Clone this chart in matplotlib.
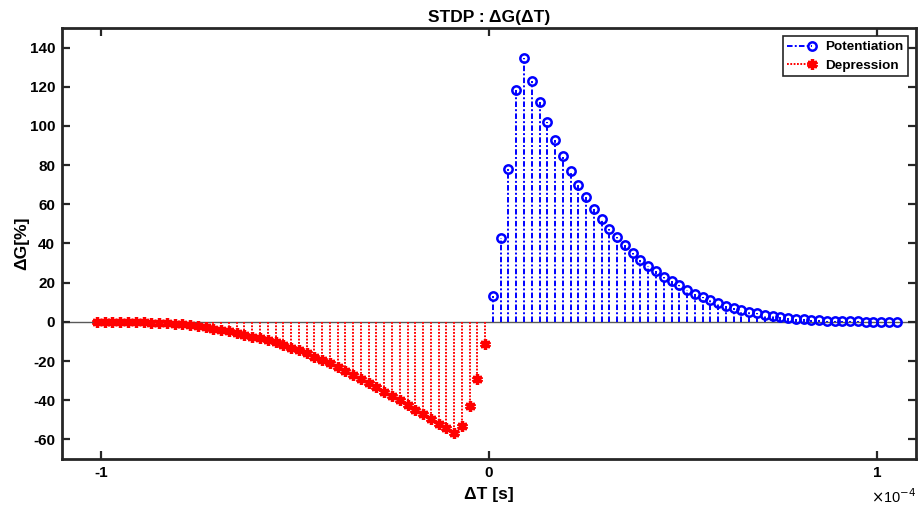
import numpy as np
import matplotlib
matplotlib.use("Agg")
import matplotlib.pyplot as plt
from matplotlib.ticker import FixedLocator, FuncFormatter
from matplotlib.lines import Line2D
from matplotlib.legend_handler import HandlerLine2D

plt.rcParams['font.family'] = ['Liberation Sans', 'DejaVu Sans']
plt.rcParams['axes.unicode_minus'] = False
plt.rcParams['lines.scale_dashes'] = False

# Spike timing difference (microseconds) and conductance change (%)
dt_pot_us = [1, 3, 5, 7, 9, 11, 13, 15, 17, 19, 21, 23, 25, 27, 29, 31, 33, 35, 37, 39,
             41, 43, 45, 47, 49, 51, 53, 55, 57, 59, 61, 63, 65, 67, 69, 71, 73, 75, 77, 79,
             81, 83, 85, 87, 89, 91, 93, 95, 97, 99, 101, 103, 105]
dg_pot = [13.0, 42.6, 78.0, 118.6, 134.9, 122.9, 112.1, 102.2, 93.0, 84.6, 76.8, 69.9,
          63.8, 57.8, 52.3, 47.5, 43.1, 39.0, 35.2, 31.8, 28.4, 25.8, 22.9, 20.9, 18.6,
          16.4, 14.4, 12.7, 11.3, 9.6, 8.2, 7.0, 6.0, 5.0, 4.3, 3.6, 3.0, 2.5, 2.0, 1.6,
          1.3, 1.0, 0.8, 0.6, 0.5, 0.4, 0.3, 0.22, 0.17, 0.13, 0.1, 0.08, 0.06]

dt_dep_us = [-101, -99, -97, -95, -93, -91, -89, -87, -85, -83, -81, -79, -77, -75, -73,
             -71, -69, -67, -65, -63, -61, -59, -57, -55, -53, -51, -49, -47, -45, -43,
             -41, -39, -37, -35, -33, -31, -29, -27, -25, -23, -21, -19, -17, -15, -13,
             -11, -9, -7, -5, -3, -1]
dg_dep = [-0.02, -0.03, -0.05, -0.08, -0.12, -0.18, -0.26, -0.37, -0.52, -0.72, -0.98,
          -1.3, -1.7, -2.2, -2.8, -3.4, -4.1, -4.9, -5.7, -6.6, -7.5, -8.4, -9.4, -10.4,
          -11.6, -13.2, -14.5, -16.1, -17.8, -19.5, -21.2, -23.1, -25.0, -27.2, -29.2,
          -31.3, -33.5, -35.7, -37.9, -40.0, -42.6, -44.8, -47.2, -49.4, -52.0, -54.2,
          -56.6, -53.2, -43.1, -29.2, -11.3]

x_ticks = [-1e-4, 0, 1e-4]
y_ticks = [-60, -40, -20, 0, 20, 40, 60, 80, 100, 120, 140]

x_pot = np.array(dt_pot_us) * 1e-6
x_dep = np.array(dt_dep_us) * 1e-6

BLUE_DASH = (0, (4.0, 1.6, 1.4, 1.6))
RED_DOT = (0, (1.3, 1.1))


class RightMarkerHandler(HandlerLine2D):
    def create_artists(self, *args, **kwargs):
        arts = super().create_artists(*args, **kwargs)
        for a in arts:
            n = len(a.get_xdata())
            a.set_markevery([n - 1])
        return arts


fig = plt.figure(figsize=(9.18, 5.07), dpi=100)
ax = fig.add_axes([0.0675, 0.0947, 0.9305, 0.8501])

ax.axhline(0, color='0.35', lw=1.0, zorder=1)

mk, st, bl = ax.stem(x_pot, dg_pot, linefmt='-', markerfmt='o', basefmt=' ')
st.set_color('blue'); st.set_linewidth(1.4); st.set_linestyle(BLUE_DASH)
mk.set_color('blue'); mk.set_markerfacecolor('none'); mk.set_markersize(6)
mk.set_markeredgewidth(1.8)
bl.set_visible(False)

mk2, st2, bl2 = ax.stem(x_dep, dg_dep, linefmt='-', markerfmt='o', basefmt=' ')
st2.set_color('red'); st2.set_linewidth(1.4); st2.set_linestyle(RED_DOT)
mk2.set_marker((6, 2, 0)); mk2.set_color('red'); mk2.set_markersize(7.5)
mk2.set_markeredgewidth(2.4)
bl2.set_visible(False)

ax.set_xlim(-1.1e-4, 1.1e-4)
ax.set_ylim(-70, 150)
ax.xaxis.set_major_locator(FixedLocator(x_ticks))
ax.yaxis.set_major_locator(FixedLocator(y_ticks))
ax.xaxis.set_major_formatter(FuncFormatter(lambda v, p: '%g' % round(v / 1e-4, 6)))
ax.text(1.0, -0.066, r'$\times$10$^{-4}$', transform=ax.transAxes, ha='right', va='top',
        fontsize=10.5)

for sp in ax.spines.values():
    sp.set_linewidth(2.0)
    sp.set_color('0.15')
ax.tick_params(direction='in', length=6, width=1.6, color='0.15', top=True, right=True,
               labelsize=11, pad=5)
for lab in ax.get_xticklabels() + ax.get_yticklabels():
    lab.set_fontweight('bold')

ax.set_title('STDP : ΔG(ΔT)', fontsize=12.5, fontweight='bold', pad=4)
ax.set_xlabel('ΔT [s]', fontsize=12.5, fontweight='bold', labelpad=5)
ax.set_ylabel('ΔG[%]', fontsize=12.5, fontweight='bold', labelpad=0.5)

h1 = Line2D([], [], color='blue', lw=1.4, ls=BLUE_DASH, marker='o', markerfacecolor='none',
            markersize=6, markeredgewidth=1.8)
h2 = Line2D([], [], color='red', lw=1.4, ls=RED_DOT, marker=(6, 2, 0), markersize=7.5,
            markeredgewidth=2.4)
leg = ax.legend([h1, h2], ['Potentiation', 'Depression'], loc='upper right',
                prop={'weight': 'bold', 'size': 9.7}, numpoints=1,
                handler_map={Line2D: RightMarkerHandler()},
                fancybox=False, framealpha=1, edgecolor='0.15', borderpad=0.35,
                handlelength=1.8, handletextpad=1.0, labelspacing=0.45,
                borderaxespad=0.6)
leg.get_frame().set_linewidth(1.2)

fig.savefig('out.png', dpi=100)
